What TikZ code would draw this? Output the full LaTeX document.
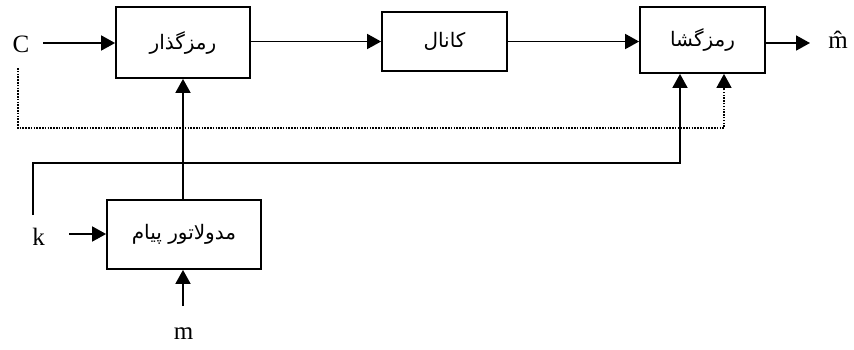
\documentclass[tikz,border=0pt]{standalone}
\usepackage{fontspec}
\setmainfont{Liberation Serif}
\newfontfamily\arabicfont[Script=Arabic]{DejaVu Sans}
\TeXXeTstate=1
\usetikzlibrary{arrows.meta}
\begin{document}
\begin{tikzpicture}[x=1pt,y=-1pt,
  blk/.style={draw, line width=1.8pt, inner sep=0pt, font=\arabicfont\fontsize{20}{24}\selectfont},
  lbl/.style={inner sep=0pt, font=\fontsize{25}{29}\selectfont},
  wire/.style={line width=1.8pt},
  arr/.style={wire, -{Triangle[length=14pt,width=15pt]}},
  dots/.style={line width=1.5pt, dash pattern=on 1.5pt off 1.3pt}]
\useasboundingbox (0,0) rectangle (854,349);

% blocks
\node[blk, minimum width=134pt, minimum height=71pt] (enc) at (183,42.5) {\beginR رمزگذار\endR};
\node[blk, minimum width=125pt, minimum height=59pt] (chan) at (444.5,41.5) {\beginR کانال\endR};
\node[blk, minimum width=125pt, minimum height=66pt] (dec) at (702.5,40) {\beginR رمزگشا\endR};
\node[blk, minimum width=154pt, minimum height=69pt] (mod) at (184,234.5) {\beginR مدولاتور پیام\endR};

% terminal labels
\node[lbl] (C) at (21,44.5) {C};
\node[lbl] (k) at (38.5,237) {k};
\node[lbl] (m) at (183.5,334) {m};
\node[lbl] (mh) at (838,40) {\^{m}};

% free ends
\coordinate (cin) at (43,43);
\coordinate (kin) at (69,234);
\coordinate (min) at (183,306);
\coordinate (out) at (810,43);
\coordinate (ctop) at (18,68);
\coordinate (ktop) at (33,215);

% main path
\draw[arr] (cin) -- (cin -| enc.west);
\draw[arr] (enc.east |- 0,41.5) -- (chan.west);
\draw[arr] (chan.east) -- (chan.east -| dec.west);
\draw[arr] (dec.east |- out) -- (out);

% key and message paths
\draw[arr] (kin) -- (kin -| mod.west);
\draw[arr] (min) -- (min |- mod.south);
\draw[arr] (mod.north -| min) -- (min |- enc.south);
\draw[arr] (ktop) -- (ktop |- 0,163) -- (680,163) -- (680,0 |- dec.south);

% dotted side channel
\draw[arr, dots] (ctop) -- (ctop |- 0,128) -- (724,128) -- (724,0 |- dec.south);
\end{tikzpicture}
\end{document}
